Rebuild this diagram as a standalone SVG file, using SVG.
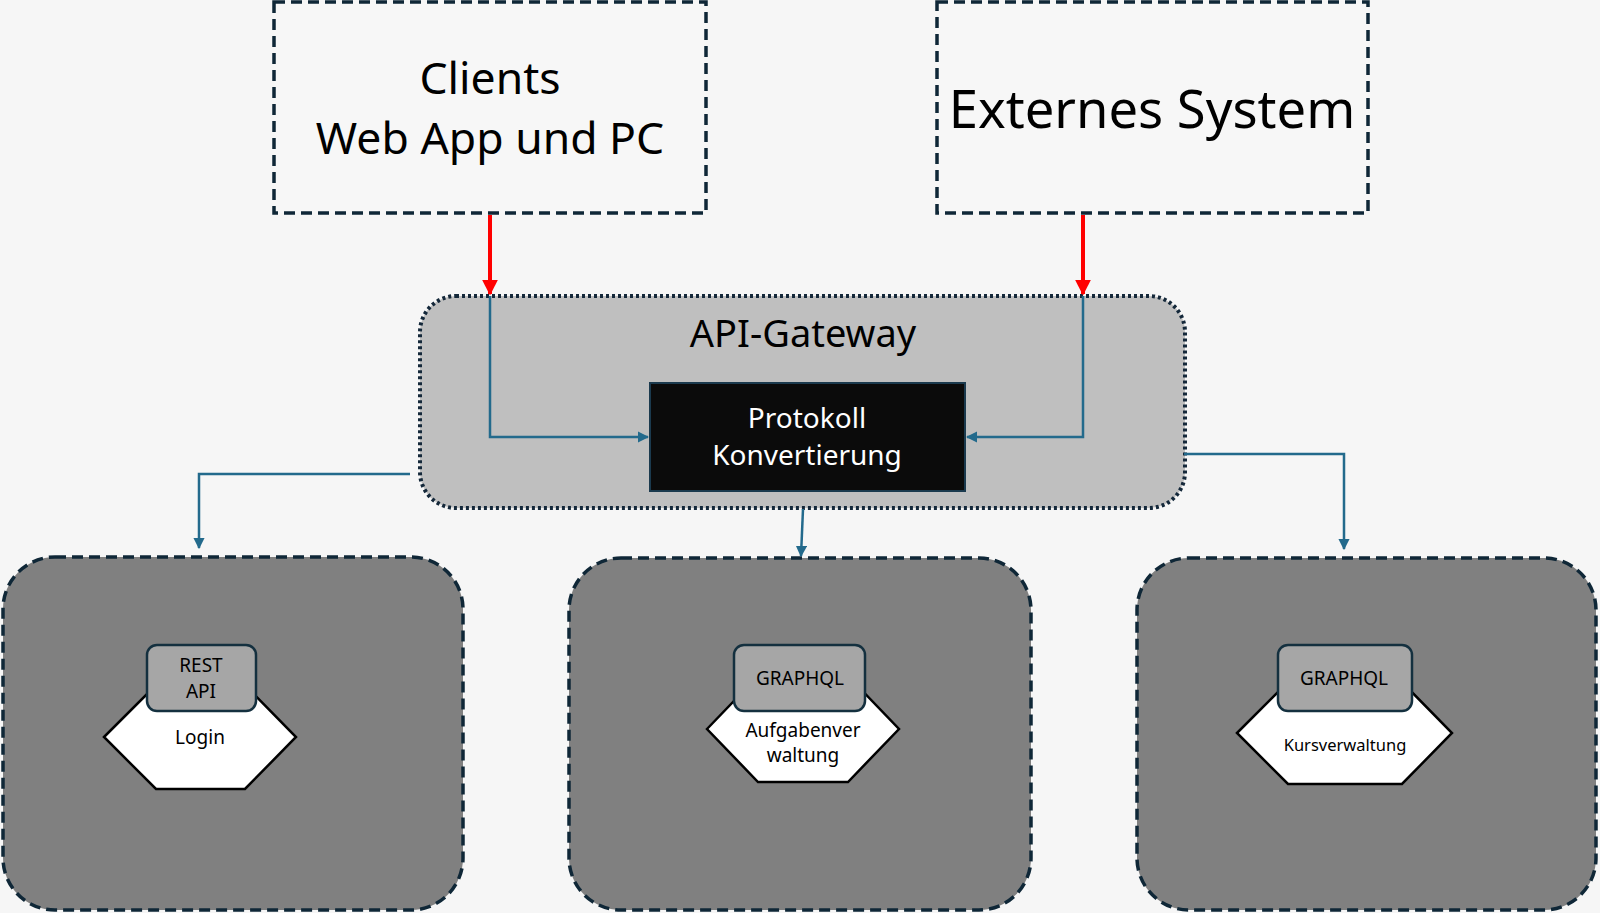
<svg xmlns="http://www.w3.org/2000/svg" width="1600" height="913" viewBox="0 0 1600 913">
<defs>
<style>
.txt{font-family:"Noto Sans","Liberation Sans",sans-serif;text-anchor:middle;fill:#000}
.ext{fill:#f7f7f7;stroke:#0f2737;stroke-width:3.5;stroke-dasharray:11 6}
.svc{fill:#808080;stroke:#0f2737;stroke-width:3.5;stroke-dasharray:11 6}
.api{fill:#a6a6a6;stroke:#14303f;stroke-width:2.5}
.hex{fill:#fff;stroke:#000;stroke-width:2.5}
.red{stroke:#ff0000;stroke-width:4;fill:none}
.blue{stroke:#236a8c;stroke-width:2.5;fill:none}
</style>
<marker id="ar" viewBox="0 0 10 10" refX="9" refY="5" markerWidth="4" markerHeight="4" orient="auto"><path d="M0,0 L10,5 L0,10 z" fill="#ff0000"/></marker>
<marker id="ab" viewBox="0 0 10 10" refX="9" refY="5" markerWidth="4.5" markerHeight="4.5" orient="auto"><path d="M0,0 L10,5 L0,10 z" fill="#236a8c"/></marker>
</defs>
<rect x="0" y="0" width="1600" height="913" fill="#f6f6f6"/>

<g id="clients">
<rect class="ext" x="274" y="2" width="432" height="211"/>
<text class="txt" x="490" y="94" font-size="44.5">Clients</text>
<text class="txt" x="490" y="154" font-size="44.5">Web App und PC</text>
</g>

<g id="externes-system">
<rect class="ext" x="937" y="2" width="431" height="211"/>
<text class="txt" x="1152" y="128" font-size="52.5">Externes System</text>
</g>

<g id="api-gateway">
<rect x="420" y="296" width="765" height="212" rx="36" fill="#bfbfbf" stroke="#14283a" stroke-width="4" stroke-dasharray="3 3"/>
<text class="txt" x="803" y="347" font-size="38">API-Gateway</text>
</g>

<g id="protokoll-konvertierung">
<rect x="650" y="383" width="315" height="108" fill="#0b0b0b" stroke="#1b3a4e" stroke-width="2"/>
<text class="txt" x="807" y="428" font-size="28" style="fill:#fff">Protokoll</text>
<text class="txt" x="807" y="465" font-size="28" style="fill:#fff">Konvertierung</text>
</g>

<g id="login-service">
<rect class="svc" x="3" y="557" width="460" height="353" rx="52"/>
<polygon class="hex" points="104,737 156,685 245,685 296,737 245,789 156,789"/>
<rect class="api" x="147" y="645" width="109" height="66" rx="10"/>
<text class="txt" x="201" y="672" font-size="19">REST</text>
<text class="txt" x="201" y="698" font-size="19">API</text>
<text class="txt" x="200" y="744" font-size="19">Login</text>
</g>

<g id="aufgaben-service">
<rect class="svc" x="569" y="558" width="462" height="352" rx="52"/>
<polygon class="hex" points="707,729 758,676 848,676 899,729 848,782 758,782"/>
<rect class="api" x="734" y="645" width="131" height="66" rx="10"/>
<text class="txt" x="800" y="685" font-size="19">GRAPHQL</text>
<text class="txt" x="803" y="737" font-size="19">Aufgabenver</text>
<text class="txt" x="803" y="762" font-size="19">waltung</text>
</g>

<g id="kurs-service">
<rect class="svc" x="1137" y="558" width="459" height="352" rx="52"/>
<polygon class="hex" points="1237,733 1288,682 1402,682 1452,733 1402,784 1288,784"/>
<rect class="api" x="1278" y="645" width="134" height="66" rx="10"/>
<text class="txt" x="1344" y="685" font-size="19">GRAPHQL</text>
<text class="txt" x="1345" y="751" font-size="16.5">Kursverwaltung</text>
</g>

<g id="connectors">
<line class="red" x1="490" y1="215" x2="490" y2="294" marker-end="url(#ar)"/>
<line class="red" x1="1083" y1="215" x2="1083" y2="294" marker-end="url(#ar)"/>
<polyline class="blue" points="490,296 490,437 648,437" marker-end="url(#ab)"/>
<polyline class="blue" points="1083,296 1083,437 967,437" marker-end="url(#ab)"/>
<polyline class="blue" points="410,474 199,474 199,548" marker-end="url(#ab)"/>
<line class="blue" x1="803" y1="509" x2="801" y2="556" marker-end="url(#ab)"/>
<polyline class="blue" points="1184,454 1344,454 1344,549" marker-end="url(#ab)"/>
</g>
</svg>
